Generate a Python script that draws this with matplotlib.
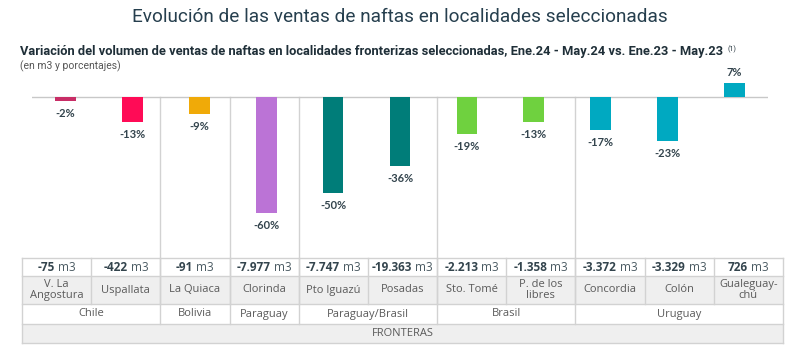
import numpy as np
import matplotlib.pyplot as plt
from matplotlib import font_manager
from matplotlib.font_manager import FontProperties
from matplotlib.patches import Rectangle

# datos
localidades = ['V. La\nAngostura', 'Uspallata', 'La Quiaca', 'Clorinda', 'Pto Iguazú',
               'Posadas', 'Sto. Tomé', 'P. de los\nlibres', 'Concordia', 'Colón',
               'Gualeguay-\nchú']
variacion = [-2, -13, -9, -60, -50, -36, -19, -13, -17, -23, 7]
volumen = [-75, -422, -91, -7977, -7747, -19363, -2213, -1358, -3372, -3329, 726]
paises = ['Chile', 'Bolivia', 'Paraguay', 'Paraguay/Brasil', 'Brasil', 'Uruguay']
paises_n = [2, 1, 1, 2, 2, 3]
colores = ['#c82d66', '#ff0b56', '#f0aa08', '#bb73d6', '#007d79', '#007d79',
           '#6fd13f', '#6fd13f', '#00a9c1', '#00a9c1', '#00a9c1']

titulo = 'Evolución de las ventas de naftas en localidades seleccionadas'
subtitulo = ('Variación del volumen de ventas de naftas en localidades fronterizas '
             'seleccionadas, Ene.24 - May.24 vs. Ene.23 - May.23')


def con_bold(cands):
    # primera familia que tenga archivo bold de verdad
    for fam in cands:
        try:
            p = font_manager.findfont(FontProperties(family=fam, weight='bold'),
                                      fallback_to_default=False)
        except Exception:
            continue
        if 'bold' in p.lower() or 'black' in p.lower():
            return fam
    return 'DejaVu Sans'


narrow = con_bold(['Liberation Sans Narrow', 'Roboto', 'Open Sans', 'Liberation Sans'])
tabfont = con_bold(['Noto Sans', 'Open Sans', 'Roboto', 'DejaVu Sans'])
lblfont = con_bold(['Lato', 'Open Sans', 'Roboto', 'DejaVu Sans'])

txt = '#33444d'
grid = '#d2d2d2'

fig = plt.figure(figsize=(8, 3.55), dpi=100)
fig.patch.set_facecolor('white')

# capa en pixeles para tabla, lineas y titulos
over = fig.add_axes([0, 0, 1, 1])
over.set_xlim(0, 800)
over.set_ylim(355, 0)
over.axis('off')

ax = fig.add_axes([32 / 800, 1 - 250 / 355, 736 / 800, 180 / 355])
ax.set_xlim(-0.5, 10.5)
ax.set_ylim(-(250 - 97) / 1.93, (97 - 70) / 1.93)
ax.axis('off')
ax.patch.set_alpha(0)

renderer = fig.canvas.get_renderer()


def fit(t, width):
    w = t.get_window_extent(renderer).width
    t.set_fontsize(t.get_fontsize() * width / w)


t = over.text(400, 17, titulo, ha='center', va='center', fontsize=13,
              color='#263f4e', family=narrow)
fit(t, 535)
s = over.text(20, 52, subtitulo, ha='left', va='center', fontsize=9,
              fontweight='bold', color='#1f2f38', family=narrow)
fit(s, 705)
sw = s.get_window_extent(renderer).width
over.text(20 + sw + 4, 49, '(1)', ha='left', va='center', fontsize=5,
          color='#1f2f38', family=narrow)
over.text(20, 66, '(en m3 y porcentajes)', ha='left', va='center', fontsize=7.5,
          color='#555555', family=narrow)

# barras
x = np.arange(len(variacion))
ax.bar(x, variacion, width=0.31, color=colores, zorder=3)
ax.axhline(0, color='#c8c8c8', lw=1, zorder=2)
for i, v in enumerate(variacion):
    ax.annotate(f'{v}%', (i, v), xytext=(0, -5 if v < 0 else 4),
                textcoords='offset points', ha='center',
                va='top' if v < 0 else 'bottom', fontsize=8,
                fontweight='bold', color=txt, family=lblfont)

# tabla
x0, x1 = 22, 783
cw = (x1 - x0) / len(localidades)
rows = [258, 276, 304, 324, 343]
fondos = ['white', '#efefef', 'white', '#efefef']
for r in range(4):
    over.add_patch(Rectangle((x0, rows[r]), x1 - x0, rows[r + 1] - rows[r],
                             facecolor=fondos[r], edgecolor='none', zorder=1))
for yy in rows:
    over.plot([x0, x1], [yy, yy], color=grid, lw=1, zorder=2)
over.plot([x0, x0], [rows[0], rows[-1]], color=grid, lw=1, zorder=2)
over.plot([x1, x1], [rows[0], rows[-1]], color=grid, lw=1, zorder=2)
for k in range(1, len(localidades)):
    over.plot([x0 + k * cw] * 2, [rows[0], rows[2]], color=grid, lw=1, zorder=2)

for i, (nom, vol) in enumerate(zip(localidades, volumen)):
    cx = x0 + (i + 0.5) * cw
    num = f'{vol:,}'.replace(',', '.')
    a = over.text(cx, (rows[0] + rows[1]) / 2 + 0.5, num, ha='right', va='center',
                  fontsize=8.5, fontweight='bold', color=txt, family=tabfont)
    b = over.text(cx, (rows[0] + rows[1]) / 2 + 0.5, ' m3', ha='left', va='center',
                  fontsize=8.5, color='#4a5a62', family=tabfont)
    wa = a.get_window_extent(renderer).width
    wb = b.get_window_extent(renderer).width
    a.set_x(cx - (wa + wb) / 2 + wa)
    b.set_x(cx - (wa + wb) / 2 + wa)
    over.text(cx, (rows[1] + rows[2]) / 2, nom, ha='center', va='center',
              fontsize=8, color='#5a5a5a', family=tabfont, linespacing=1.0)

# paises y separadores
k = 0
for pais, n in zip(paises, paises_n):
    cx = x0 + (k + n / 2) * cw
    over.text(cx, (rows[2] + rows[3]) / 2, pais, ha='center', va='center',
              fontsize=8, color='#5a5a5a', family=tabfont)
    k += n
    if k < len(localidades):
        xs = x0 + k * cw
        over.plot([xs, xs], [97, rows[3]], color=grid, lw=1, zorder=2)
over.text((x0 + x1) / 2, (rows[3] + rows[4]) / 2, 'FRONTERAS', ha='center',
          va='center', fontsize=8, color='#5a5a5a', family=tabfont)

fig.savefig('out.png', dpi=100, facecolor='white')
